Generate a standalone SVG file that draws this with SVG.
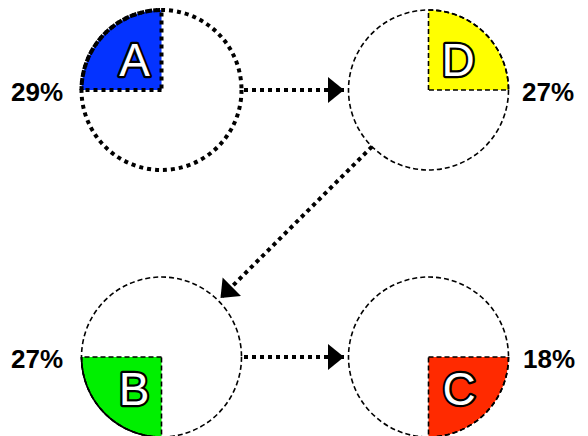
<svg xmlns="http://www.w3.org/2000/svg" width="588" height="436" viewBox="0 0 588 436">
<style>
.bg{fill:#ffffff}
.ring{fill:none;stroke:#000;stroke-width:1.6;stroke-dasharray:5,3}
.ringA{fill:none;stroke:#000;stroke-width:4;stroke-dasharray:4,4}
.slice{stroke:#000;stroke-width:1.6;stroke-dasharray:5,3}
.sliceA{stroke:#000;stroke-width:4;stroke-dasharray:4,4}
.letter{font-family:"Liberation Sans",Arial,sans-serif;font-size:46px;fill:#fff;stroke:#000;stroke-width:4.5;paint-order:stroke;stroke-linejoin:round;text-anchor:middle}
.pct{font-family:"Liberation Sans",Arial,sans-serif;font-size:26px;font-weight:bold;fill:#000}
.conn{fill:none;stroke:#000;stroke-width:4;stroke-dasharray:4,4}
</style>
<defs>
<marker id="arrow" markerUnits="userSpaceOnUse" markerWidth="17" markerHeight="28" refX="16" refY="13" orient="auto" viewBox="0 0 17 28">
<path d="M0,0 L16,13 L0,26 Z" fill="#000"/>
</marker>
</defs>
<rect class="bg" x="0" y="0" width="588" height="436"/>
<g id="connectors">
<path class="conn" d="M244,90 L344,90" marker-end="url(#arrow)"/>
<path class="conn" d="M372,146.6 L220.5,298" marker-end="url(#arrow)"/>
<path class="conn" d="M244,357 L344,357" marker-end="url(#arrow)"/>
</g>
<g id="node-A">
<path class="sliceA" fill="#0433ff" d="M161.5,90 L81.5,90 A80,80 0 0 1 161.5,10 Z"/>
<circle class="ringA" cx="161.5" cy="90" r="80"/>
<text class="letter" x="134.5" y="76">A</text>
<text class="pct" x="11" y="101">29%</text>
</g>
<g id="node-D">
<path class="slice" fill="#ffff00" d="M428.5,90 L428.5,10 A80,80 0 0 1 508.5,90 Z"/>
<circle class="ring" cx="428.5" cy="90" r="80"/>
<text class="letter" x="458" y="76">D</text>
<text class="pct" x="522" y="101">27%</text>
</g>
<g id="node-B">
<path class="slice" fill="#00f000" d="M161.5,357 L81.5,357 A80,80 0 0 0 161.5,437 Z"/>
<path fill="none" stroke="#000" stroke-width="1.6" d="M81.5,357 A80,80 0 0 0 161.5,437"/>
<circle class="ring" cx="161.5" cy="357" r="80"/>
<text class="letter" x="134" y="405">B</text>
<text class="pct" x="11" y="368">27%</text>
</g>
<g id="node-C">
<path class="slice" fill="#ff2a00" d="M428.5,357 L508.5,357 A80,80 0 0 1 428.5,437 Z"/>
<circle class="ring" cx="428.5" cy="357" r="80"/>
<text class="letter" x="459" y="405">C</text>
<text class="pct" x="523" y="368">18%</text>
</g>
</svg>
